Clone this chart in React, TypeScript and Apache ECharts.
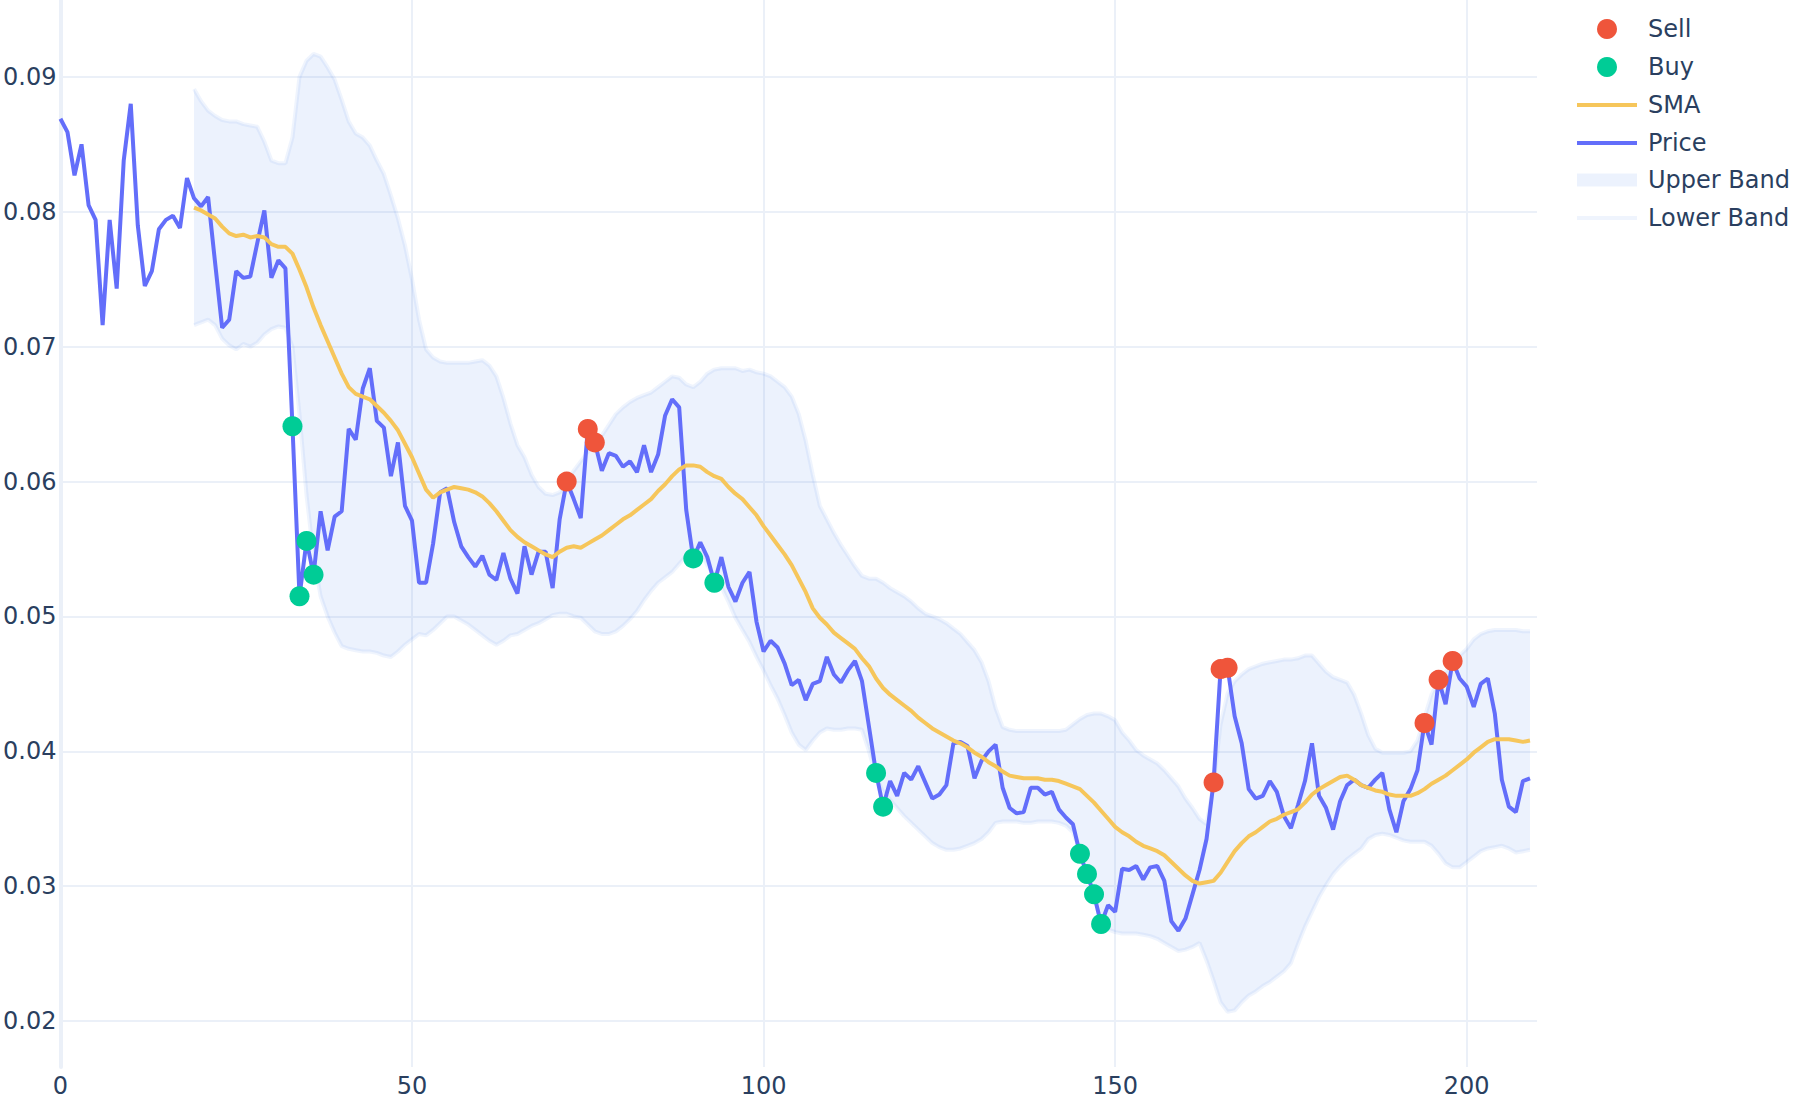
import React, { useEffect, useRef } from "react";
import * as echarts from "echarts";

// Price, index 0..209
const price = [
  0.0869, 0.0859, 0.0827, 0.0850, 0.0805, 0.0794, 0.0716, 0.0794, 0.0743, 0.0838,
  0.0880, 0.0790, 0.0745, 0.0756, 0.0787, 0.0794, 0.0797, 0.0788, 0.0825, 0.0810,
  0.0804, 0.0811, 0.0762, 0.0714, 0.0720, 0.0756, 0.0751, 0.0752, 0.0777, 0.0801,
  0.0751, 0.0764, 0.0758, 0.0641, 0.0515, 0.0556, 0.0531, 0.0578, 0.0549, 0.0574,
  0.0578, 0.0639, 0.0631, 0.0669, 0.0684, 0.0645, 0.0640, 0.0604, 0.0629, 0.0582,
  0.0571, 0.0525, 0.0525, 0.0554, 0.0592, 0.0595, 0.0570, 0.0552, 0.0544, 0.0537,
  0.0545, 0.0531, 0.0527, 0.0547, 0.0528, 0.0517, 0.0552, 0.0531, 0.0548, 0.0548,
  0.0521, 0.0572, 0.0600, 0.0587, 0.0573, 0.0639, 0.0629, 0.0608, 0.0621, 0.0619,
  0.0611, 0.0615, 0.0607, 0.0627, 0.0607, 0.0620, 0.0649, 0.0661, 0.0655, 0.0579,
  0.0543, 0.0555, 0.0544, 0.0525, 0.0544, 0.0522, 0.0511, 0.0525, 0.0533, 0.0496,
  0.0474, 0.0482, 0.0477, 0.0465, 0.0449, 0.0453, 0.0438, 0.0450, 0.0452, 0.0470,
  0.0457, 0.0451, 0.0460, 0.0467, 0.0452, 0.0418, 0.0384, 0.0359, 0.0378, 0.0367,
  0.0384, 0.0379, 0.0389, 0.0377, 0.0365, 0.0368, 0.0375, 0.0406, 0.0407, 0.0404,
  0.0380, 0.0393, 0.0400, 0.0405, 0.0373, 0.0358, 0.0354, 0.0355, 0.0373, 0.0373,
  0.0368, 0.0370, 0.0357, 0.0351, 0.0346, 0.0324, 0.0309, 0.0294, 0.0272, 0.0286,
  0.0281, 0.0313, 0.0312, 0.0315, 0.0305, 0.0314, 0.0315, 0.0304, 0.0274, 0.0267,
  0.0276, 0.0294, 0.0312, 0.0335, 0.0377, 0.0461, 0.0462, 0.0426, 0.0406, 0.0372,
  0.0365, 0.0367, 0.0378, 0.0370, 0.0352, 0.0343, 0.0360, 0.0378, 0.0406, 0.0367,
  0.0358, 0.0342, 0.0363, 0.0375, 0.0379, 0.0375, 0.0373, 0.0379, 0.0384, 0.0357,
  0.0340, 0.0363, 0.0372, 0.0386, 0.0421, 0.0405, 0.0453, 0.0435, 0.0467, 0.0454,
  0.0448, 0.0433, 0.0450, 0.0454, 0.0428, 0.0379, 0.0359, 0.0355, 0.0378, 0.0380,
];

// SMA and bands start at index 19
const bandStart = 19;

const sma = [
  0.0803, 0.0801, 0.0798, 0.0795, 0.0789, 0.0784, 0.0782, 0.0783, 0.0781, 0.0782,
  0.0781, 0.0776, 0.0774, 0.0774, 0.0769, 0.0757, 0.0744, 0.0729, 0.0716, 0.0704,
  0.0692, 0.0680, 0.0670, 0.0665, 0.0663, 0.0661, 0.0656, 0.0651, 0.0645, 0.0638,
  0.0628, 0.0618, 0.0606, 0.0594, 0.0588, 0.0592, 0.0594, 0.0596, 0.0595, 0.0594,
  0.0592, 0.0589, 0.0584, 0.0578, 0.0571, 0.0564, 0.0559, 0.0555, 0.0552, 0.0549,
  0.0546, 0.0544, 0.0548, 0.0551, 0.0552, 0.0551, 0.0554, 0.0557, 0.0560, 0.0564,
  0.0568, 0.0572, 0.0575, 0.0579, 0.0583, 0.0587, 0.0593, 0.0598, 0.0604, 0.0609,
  0.0612, 0.0612, 0.0611, 0.0607, 0.0604, 0.0602, 0.0596, 0.0591, 0.0587, 0.0581,
  0.0575, 0.0567, 0.0560, 0.0553, 0.0546, 0.0538, 0.0528, 0.0518, 0.0506, 0.0499,
  0.0494, 0.0488, 0.0484, 0.0480, 0.0476, 0.0469, 0.0463, 0.0454, 0.0447, 0.0442,
  0.0438, 0.0434, 0.0430, 0.0425, 0.0421, 0.0417, 0.0414, 0.0411, 0.0408, 0.0406,
  0.0403, 0.0399, 0.0396, 0.0392, 0.0389, 0.0385, 0.0382, 0.0381, 0.0380, 0.0380,
  0.0380, 0.0379, 0.0379, 0.0378, 0.0376, 0.0374, 0.0372, 0.0367, 0.0362, 0.0356,
  0.0350, 0.0344, 0.0340, 0.0337, 0.0333, 0.0330, 0.0328, 0.0326, 0.0323, 0.0318,
  0.0313, 0.0308, 0.0304, 0.0302, 0.0303, 0.0304, 0.0310, 0.0318, 0.0326, 0.0332,
  0.0337, 0.0340, 0.0344, 0.0348, 0.0350, 0.0353, 0.0355, 0.0357, 0.0362, 0.0368,
  0.0372, 0.0375, 0.0378, 0.0381, 0.0382, 0.0379, 0.0375, 0.0373, 0.0371, 0.0370,
  0.0368, 0.0367, 0.0367, 0.0367, 0.0369, 0.0372, 0.0376, 0.0379, 0.0382, 0.0386,
  0.0390, 0.0394, 0.0399, 0.0403, 0.0407, 0.0409, 0.0409, 0.0409, 0.0408, 0.0407, 0.0408,
];

const upperBand = [
  0.0891, 0.0882, 0.0875, 0.0871, 0.0868, 0.0867, 0.0867, 0.0865, 0.0864, 0.0863,
  0.0852, 0.0838, 0.0836, 0.0836, 0.0855, 0.0900, 0.0912, 0.0917, 0.0915, 0.0907,
  0.0898, 0.0883, 0.0867, 0.0858, 0.0855, 0.0849, 0.0838, 0.0828, 0.0812, 0.0795,
  0.0775, 0.0750, 0.0720, 0.0698, 0.0692, 0.0689, 0.0688, 0.0688, 0.0688, 0.0688,
  0.0689, 0.0690, 0.0686, 0.0678, 0.0662, 0.0643, 0.0627, 0.0618, 0.0605, 0.0596,
  0.0591, 0.0590, 0.0592, 0.0600, 0.0608, 0.0615, 0.0622, 0.0628, 0.0634, 0.0642,
  0.0650, 0.0655, 0.0659, 0.0662, 0.0664, 0.0666, 0.0670, 0.0674, 0.0678, 0.0677,
  0.0672, 0.0670, 0.0674, 0.0680, 0.0683, 0.0684, 0.0684, 0.0684, 0.0682, 0.0683,
  0.0681, 0.0680, 0.0678, 0.0674, 0.0670, 0.0663, 0.0650, 0.0630, 0.0605, 0.0582,
  0.0572, 0.0562, 0.0553, 0.0545, 0.0537, 0.0530, 0.0528, 0.0528, 0.0525, 0.0521,
  0.0518, 0.0515, 0.0511, 0.0506, 0.0502, 0.0500, 0.0498, 0.0495, 0.0491, 0.0487,
  0.0481, 0.0475, 0.0466, 0.0452, 0.0432, 0.0418, 0.0416, 0.0415, 0.0415, 0.0415,
  0.0415, 0.0415, 0.0415, 0.0415, 0.0416, 0.0420, 0.0424, 0.0427, 0.0428, 0.0428,
  0.0426, 0.0423, 0.0414, 0.0408, 0.0401, 0.0397, 0.0394, 0.0391, 0.0386, 0.0380,
  0.0374, 0.0365, 0.0358, 0.0350, 0.0346, 0.0376, 0.0420, 0.0443, 0.0452, 0.0457,
  0.0461, 0.0463, 0.0465, 0.0466, 0.0467, 0.0468, 0.0468, 0.0469, 0.0471, 0.0471,
  0.0465, 0.0459, 0.0455, 0.0453, 0.0451, 0.0442, 0.0428, 0.0412, 0.0402, 0.0399,
  0.0399, 0.0399, 0.0399, 0.0400, 0.0408, 0.0425, 0.0442, 0.0453, 0.0459, 0.0465,
  0.0471, 0.0476, 0.0483, 0.0487, 0.0489, 0.0490, 0.0490, 0.0490, 0.0490, 0.0489, 0.0489,
];

const lowerBand = [
  0.0716, 0.0718, 0.0720, 0.0716, 0.0706, 0.0701, 0.0698, 0.0702, 0.0700, 0.0703,
  0.0709, 0.0713, 0.0715, 0.0714, 0.0700, 0.0650, 0.0590, 0.0545, 0.0515, 0.0500,
  0.0488, 0.0478, 0.0476, 0.0475, 0.0474, 0.0474, 0.0473, 0.0471, 0.0470, 0.0474,
  0.0479, 0.0483, 0.0487, 0.0486, 0.0490, 0.0495, 0.0500, 0.0500, 0.0497, 0.0494,
  0.0490, 0.0486, 0.0482, 0.0479, 0.0482, 0.0486, 0.0487, 0.0490, 0.0493, 0.0495,
  0.0498, 0.0501, 0.0502, 0.0502, 0.0500, 0.0499, 0.0494, 0.0489, 0.0487, 0.0487,
  0.0489, 0.0493, 0.0498, 0.0504, 0.0512, 0.0519, 0.0525, 0.0529, 0.0533, 0.0539,
  0.0545, 0.0550, 0.0548, 0.0538, 0.0530, 0.0522, 0.0511, 0.0499, 0.0490, 0.0481,
  0.0470, 0.0460, 0.0449, 0.0439, 0.0427, 0.0414, 0.0405, 0.0401, 0.0408, 0.0414,
  0.0417, 0.0416, 0.0416, 0.0417, 0.0417, 0.0416, 0.0400, 0.0381, 0.0370, 0.0364,
  0.0358, 0.0352, 0.0347, 0.0342, 0.0337, 0.0332, 0.0329, 0.0327, 0.0327, 0.0328,
  0.0330, 0.0332, 0.0335, 0.0340, 0.0347, 0.0348, 0.0348, 0.0348, 0.0347, 0.0347,
  0.0348, 0.0348, 0.0348, 0.0347, 0.0345, 0.0340, 0.0326, 0.0310, 0.0293, 0.0273,
  0.0268, 0.0266, 0.0265, 0.0265, 0.0265, 0.0264, 0.0263, 0.0261, 0.0258, 0.0255,
  0.0252, 0.0253, 0.0255, 0.0258, 0.0245, 0.0230, 0.0214, 0.0207, 0.0208, 0.0214,
  0.0219, 0.0222, 0.0226, 0.0229, 0.0233, 0.0237, 0.0243, 0.0257, 0.0270, 0.0281,
  0.0292, 0.0301, 0.0309, 0.0315, 0.0320, 0.0324, 0.0328, 0.0335, 0.0338, 0.0339,
  0.0338, 0.0336, 0.0334, 0.0333, 0.0333, 0.0333, 0.0330, 0.0324, 0.0317, 0.0314,
  0.0314, 0.0318, 0.0322, 0.0326, 0.0328, 0.0329, 0.0330, 0.0328, 0.0325, 0.0326, 0.0327,
];

const buyIdx = [33, 34, 35, 36, 90, 93, 116, 117, 145, 146, 147, 148];
const sellIdx = [72, 75, 76, 164, 165, 166, 194, 196, 198];

const legendNames = ["Sell", "Buy", "SMA", "Price", "Upper Band", "Lower Band"];

const FONT = '"DejaVu Sans", Verdana, sans-serif';
const TEXT = "#2a3f5f";
const GRIDC = "#EBF0F8";
const PRICE_C = "#636EFA";
const SMA_C = "#F6C65B";
const BUY_C = "#00CC96";
const SELL_C = "#EF553B";
const BAND_FILL = "rgba(99,150,240,0.12)";
const BAND_LINE = "rgba(99,150,240,0.10)";

export default function App() {
  const ref = useRef<HTMLDivElement | null>(null);

  useEffect(() => {
    if (!ref.current) return;
    const chart = echarts.init(ref.current, undefined, { renderer: "svg" });

    const priceData = price.map((v, i) => [i, v]);
    const smaData = sma.map((v, k) => [k + bandStart, v]);
    const upperData = upperBand.map((v, k) => [k + bandStart, v]);
    const lowerData = lowerBand.map((v, k) => [k + bandStart, v]);
    const bandData = upperBand.map((v, k) => [k + bandStart, v, lowerBand[k]]);
    const buyData = buyIdx.map((i) => [i, price[i]]);
    const sellData = sellIdx.map((i) => [i, price[i]]);

    // legend drawn as graphic
    const rowY = [29, 67, 105, 143, 180, 218];
    const symX1 = 1577;
    const symX2 = 1637;
    const symCx = 1607;
    const textX = 1648;
    const legendGraphics: any[] = [];
    legendGraphics.push({ type: "circle", shape: { cx: symCx, cy: rowY[0], r: 10 }, style: { fill: SELL_C } });
    legendGraphics.push({ type: "circle", shape: { cx: symCx, cy: rowY[1], r: 10 }, style: { fill: BUY_C } });
    legendGraphics.push({ type: "line", shape: { x1: symX1, y1: rowY[2], x2: symX2, y2: rowY[2] }, style: { stroke: SMA_C, lineWidth: 4 } });
    legendGraphics.push({ type: "line", shape: { x1: symX1, y1: rowY[3], x2: symX2, y2: rowY[3] }, style: { stroke: PRICE_C, lineWidth: 4 } });
    legendGraphics.push({ type: "rect", shape: { x: symX1, y: rowY[4] - 6.5, width: symX2 - symX1, height: 13 }, style: { fill: BAND_FILL } });
    legendGraphics.push({ type: "line", shape: { x1: symX1, y1: rowY[5], x2: symX2, y2: rowY[5] }, style: { stroke: BAND_LINE, lineWidth: 4 } });
    legendNames.forEach((name, k) => {
      legendGraphics.push({
        type: "text",
        x: textX,
        y: rowY[k],
        style: { text: name, fill: TEXT, fontSize: 24, fontFamily: FONT, align: "left", verticalAlign: "middle" },
      });
    });

    const option: any = {
      animation: false,
      backgroundColor: "#ffffff",
      grid: { left: 56, top: 0, width: 1481, height: 1067, containLabel: false },
      xAxis: {
        type: "value",
        min: 0,
        max: 210,
        interval: 50,
        axisLine: { show: false },
        axisTick: { show: false },
        axisLabel: { margin: 7, fontSize: 24, color: TEXT, fontFamily: FONT, showMaxLabel: false },
        splitLine: { show: true, showMaxLine: false, lineStyle: { color: GRIDC, width: 2 } },
      },
      yAxis: {
        type: "value",
        min: 0.0166,
        max: 0.0957,
        splitNumber: 8,
        minInterval: 0.01,
        maxInterval: 0.01,
        axisLine: { show: true, onZero: false, lineStyle: { color: GRIDC, width: 4 } },
        axisTick: { show: false },
        axisLabel: {
          margin: 4,
          fontSize: 24,
          color: TEXT,
          fontFamily: FONT,
          showMinLabel: false,
          showMaxLabel: false,
          formatter: (v: number) => v.toFixed(2),
        },
        splitLine: { show: true, showMinLine: false, showMaxLine: false, lineStyle: { color: GRIDC, width: 2 } },
      },
      graphic: legendGraphics,
      series: [
        {
          name: "bandFill",
          type: "custom",
          data: bandData,
          encode: { x: 0, y: [1, 2] },
          silent: true,
          z: 1,
          renderItem: (params: any, api: any) => {
            if (params.dataIndex !== 0) return null;
            const pts: number[][] = [];
            for (let k = 0; k < upperBand.length; k++) {
              pts.push(api.coord([k + bandStart, upperBand[k]]));
            }
            for (let k = lowerBand.length - 1; k >= 0; k--) {
              pts.push(api.coord([k + bandStart, lowerBand[k]]));
            }
            return { type: "polygon", shape: { points: pts }, style: { fill: BAND_FILL } };
          },
        },
        {
          name: "Lower Band",
          type: "line",
          data: lowerData,
          symbol: "none",
          lineStyle: { color: BAND_LINE, width: 4 },
          z: 2,
        },
        {
          name: "Upper Band",
          type: "line",
          data: upperData,
          symbol: "none",
          lineStyle: { color: BAND_LINE, width: 4 },
          z: 2,
        },
        {
          name: "Price",
          type: "line",
          data: priceData,
          symbol: "none",
          lineStyle: { color: PRICE_C, width: 4 },
          z: 3,
        },
        {
          name: "SMA",
          type: "line",
          data: smaData,
          symbol: "none",
          lineStyle: { color: SMA_C, width: 4 },
          z: 4,
        },
        {
          name: "Buy",
          type: "scatter",
          data: buyData,
          symbol: "circle",
          symbolSize: 20,
          itemStyle: { color: BUY_C, opacity: 1 },
          z: 5,
        },
        {
          name: "Sell",
          type: "scatter",
          data: sellData,
          symbol: "circle",
          symbolSize: 20,
          itemStyle: { color: SELL_C, opacity: 1 },
          z: 6,
        },
      ],
    };

    chart.setOption(option);
    return () => {
      chart.dispose();
    };
  }, []);

  return (
    <div
      ref={ref}
      style={{ position: "absolute", left: 0, top: 0, width: 1800, height: 1100, background: "#ffffff" }}
    />
  );
}
